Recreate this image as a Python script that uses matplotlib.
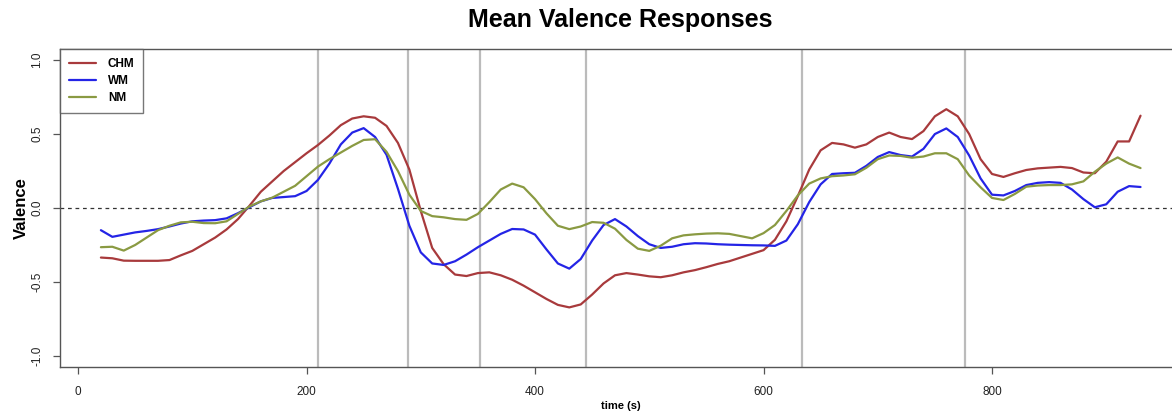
import matplotlib
matplotlib.use("Agg")
import matplotlib.pyplot as plt

plt.rcParams['font.family'] = ['Liberation Sans', 'DejaVu Sans']

# time grid (seconds)
time_s = [20, 30, 40, 50, 60, 70, 80, 90, 100, 110, 120, 130, 140, 150, 160, 170,
          180, 190, 200, 210, 220, 230, 240, 250, 260, 270, 280, 290, 300, 310, 320,
          330, 340, 350, 360, 370, 380, 390, 400, 410, 420, 430, 440, 450, 460, 470,
          480, 490, 500, 510, 520, 530, 540, 550, 560, 570, 580, 590, 600, 610, 620,
          630, 640, 650, 660, 670, 680, 690, 700, 710, 720, 730, 740, 750, 760, 770,
          780, 790, 800, 810, 820, 830, 840, 850, 860, 870, 880, 890, 900, 910, 920, 930]

chm = [-0.335, -0.34, -0.356, -0.357, -0.357, -0.357, -0.352, -0.32, -0.29, -0.245,
       -0.2, -0.145, -0.075, 0.015, 0.11, 0.18, 0.25, 0.31, 0.37, 0.426, 0.49, 0.56,
       0.605, 0.62, 0.61, 0.555, 0.44, 0.26, -0.02, -0.27, -0.38, -0.45, -0.46, -0.44,
       -0.435, -0.455, -0.485, -0.525, -0.57, -0.615, -0.655, -0.672, -0.652, -0.585,
       -0.51, -0.455, -0.44, -0.45, -0.462, -0.468, -0.455, -0.435, -0.42, -0.4,
       -0.378, -0.36, -0.335, -0.31, -0.285, -0.215, -0.09, 0.08, 0.26, 0.39, 0.44,
       0.43, 0.408, 0.43, 0.48, 0.51, 0.48, 0.466, 0.52, 0.62, 0.668, 0.62, 0.5, 0.33,
       0.23, 0.21, 0.235, 0.257, 0.268, 0.273, 0.278, 0.27, 0.24, 0.235, 0.313, 0.45,
       0.45, 0.624]

wm = [-0.15, -0.195, -0.18, -0.165, -0.155, -0.143, -0.125, -0.105, -0.09, -0.085,
      -0.082, -0.07, -0.035, 0.005, 0.045, 0.068, 0.074, 0.08, 0.115, 0.19, 0.3, 0.43,
      0.51, 0.54, 0.48, 0.36, 0.13, -0.12, -0.3, -0.375, -0.385, -0.36, -0.315, -0.265,
      -0.22, -0.175, -0.142, -0.145, -0.18, -0.28, -0.375, -0.41, -0.345, -0.22,
      -0.115, -0.075, -0.125, -0.19, -0.245, -0.27, -0.262, -0.245, -0.238, -0.24,
      -0.245, -0.248, -0.25, -0.252, -0.253, -0.256, -0.22, -0.11, 0.04, 0.16, 0.23,
      0.235, 0.238, 0.285, 0.345, 0.378, 0.358, 0.348, 0.4, 0.5, 0.538, 0.48, 0.355,
      0.2, 0.09, 0.085, 0.115, 0.155, 0.17, 0.175, 0.17, 0.125, 0.06, 0.005, 0.025,
      0.11, 0.148, 0.142]

nm = [-0.265, -0.262, -0.288, -0.25, -0.2, -0.15, -0.12, -0.097, -0.093, -0.102,
      -0.103, -0.09, -0.04, 0.01, 0.045, 0.07, 0.11, 0.15, 0.215, 0.28, 0.33, 0.375,
      0.42, 0.46, 0.465, 0.38, 0.25, 0.09, -0.02, -0.055, -0.063, -0.075, -0.08, -0.04,
      0.04, 0.125, 0.165, 0.14, 0.06, -0.036, -0.12, -0.143, -0.125, -0.095, -0.1,
      -0.14, -0.216, -0.275, -0.29, -0.255, -0.205, -0.185, -0.178, -0.173, -0.171,
      -0.175, -0.19, -0.205, -0.17, -0.115, -0.02, 0.085, 0.165, 0.2, 0.215, 0.22,
      0.228, 0.272, 0.33, 0.355, 0.352, 0.34, 0.348, 0.37, 0.37, 0.33, 0.22, 0.14,
      0.068, 0.054, 0.095, 0.144, 0.152, 0.155, 0.155, 0.16, 0.18, 0.245, 0.3, 0.342,
      0.3, 0.27]

# segment boundaries (seconds)
events = [210, 289, 352, 445, 634, 776]

series_names = ["CHM", "WM", "NM"]
series_colors = ["#A83A3C", "#2424E6", "#8A9A42"]

fig = plt.figure(figsize=(11.72, 4.15), dpi=100)
W, H = 1172, 415
left, right, top, bottom = 60, 1182, 49, 367
ax = fig.add_axes([left / W, (H - bottom) / H, (right - left) / W, (bottom - top) / H])

for ev in events:
    ax.axvline(ev, color="#BBBBBB", lw=1.6, zorder=1)
ax.axhline(0, color="#333333", lw=0.9, ls=(0, (3, 3)), zorder=1)

for vals, name, col in zip([chm, wm, nm], series_names, series_colors):
    ax.plot(time_s, vals, color=col, lw=1.6, label=name, zorder=3,
            solid_joinstyle="round", solid_capstyle="round")

ax.set_xlim(-15.8, 966.3)
ax.set_ylim(-1.075, 1.075)
ax.set_xticks([0, 200, 400, 600, 800])
ax.set_yticks([-1.0, -0.5, 0.0, 0.5, 1.0])
ax.set_yticklabels(["-1.0", "-0.5", "0.0", "0.5", "1.0"], rotation=90, va="center")
ax.tick_params(axis="both", direction="out", length=5, width=0.9, color="#555555",
               labelsize=8.5, labelcolor="#222222")
ax.tick_params(axis="x", pad=9)
ax.tick_params(axis="y", pad=7)
for s in ax.spines.values():
    s.set_color("#555555")
    s.set_linewidth(1.0)

ax.set_ylabel("Valence", fontsize=12, fontweight="bold", labelpad=2)
ax.set_xlabel("time (s)", fontsize=8, fontweight="bold", labelpad=2)
fig.text(620 / W, 1 - 20 / H, "Mean Valence Responses", ha="center", va="center",
         fontsize=18, fontweight="bold")

leg = ax.legend(loc="upper left", bbox_to_anchor=(0, 1), frameon=True, fancybox=False,
                borderaxespad=0, prop={"weight": "bold", "size": 8.5},
                handlelength=2.3, handletextpad=1.0, borderpad=0.75, labelspacing=0.45)
leg.get_frame().set_edgecolor("#555555")
leg.get_frame().set_linewidth(1.0)

fig.savefig("out.png", dpi=100)
